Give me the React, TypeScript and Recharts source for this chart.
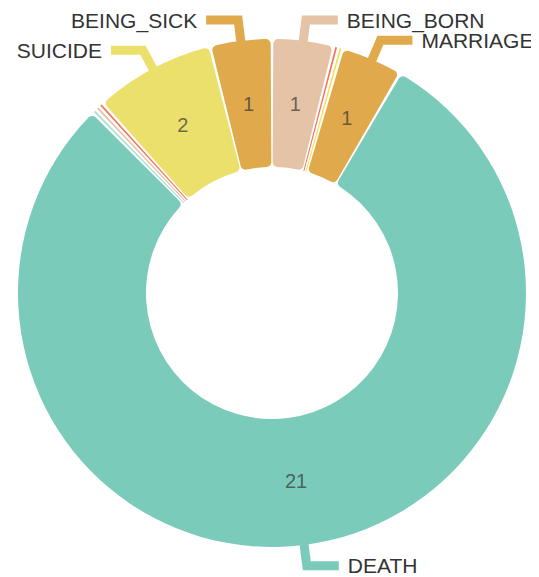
import React from "react";
import { PieChart, Pie, Cell } from "recharts";

const names = [
  "BEING_BORN",
  "OTHER_A",
  "OTHER_B",
  "MARRIAGE",
  "DEATH",
  "OTHER_C",
  "OTHER_D",
  "OTHER_E",
  "SUICIDE",
  "BEING_SICK",
];
const values = [1, 0.03, 0.03, 1, 21, 0.03, 0.03, 0.03, 2, 1];
const colors = [
  "#e4c3a6",
  "#f47560",
  "#f1e15b",
  "#dfa94c",
  "#7bcbbb",
  "#a6e0d6",
  "#e8c1a0",
  "#f47560",
  "#ece06d",
  "#dfa94c",
];
const labelled = [true, false, false, true, true, false, false, false, true, true];

const data = names.map((name, i) => ({ name, value: values[i] }));

const RADIAN = Math.PI / 180;
const FONT = "'Liberation Sans', Arial, Helvetica, sans-serif";

const renderLabel = (props: any) => {
  const { cx, cy, midAngle, innerRadius, outerRadius, index } = props;
  if (!labelled[index]) return null;
  const cos = Math.cos(-midAngle * RADIAN);
  const sin = Math.sin(-midAngle * RADIAN);
  const mr = (innerRadius + outerRadius) / 2;
  const ix = cx + mr * cos;
  const iy = cy + mr * sin;
  const p0x = cx + (outerRadius - 1) * cos;
  const p0y = cy + (outerRadius - 1) * sin;
  const p1x = cx + (outerRadius + 21) * cos;
  const p1y = cy + (outerRadius + 21) * sin;
  const right = p1x >= cx;
  const p2x = p1x + (right ? 32 : -32);
  const tx = p2x + (right ? 9 : -9);
  const color = colors[index];
  return (
    <g>
      <text
        x={ix}
        y={iy}
        textAnchor="middle"
        dominantBaseline="central"
        fontFamily={FONT}
        fontSize={20}
        fill="#333"
        fillOpacity={0.7}
      >
        {values[index]}
      </text>
      <polyline
        points={`${p0x},${p0y} ${p1x},${p1y} ${p2x},${p1y}`}
        fill="none"
        stroke={color}
        strokeWidth={9}
      />
      <text
        x={tx}
        y={p1y}
        textAnchor={right ? "start" : "end"}
        dominantBaseline="central"
        fontFamily={FONT}
        fontSize={21}
        fill="#333"
      >
        {names[index]}
      </text>
    </g>
  );
};

export default function App() {
  return (
    <div style={{ width: 523, height: 569 }}>
      <PieChart width={523} height={569}>
        <Pie
          data={data}
          dataKey="value"
          nameKey="name"
          cx={259}
          cy={280}
          innerRadius={126}
          outerRadius={254}
          startAngle={89.7}
          endAngle={-270.3}
          paddingAngle={0.6}
          cornerRadius={5}
          stroke="none"
          label={renderLabel}
          labelLine={false}
          isAnimationActive={false}
        >
          {data.map((d, i) => (
            <Cell key={d.name} fill={colors[i]} />
          ))}
        </Pie>
      </PieChart>
    </div>
  );
}
